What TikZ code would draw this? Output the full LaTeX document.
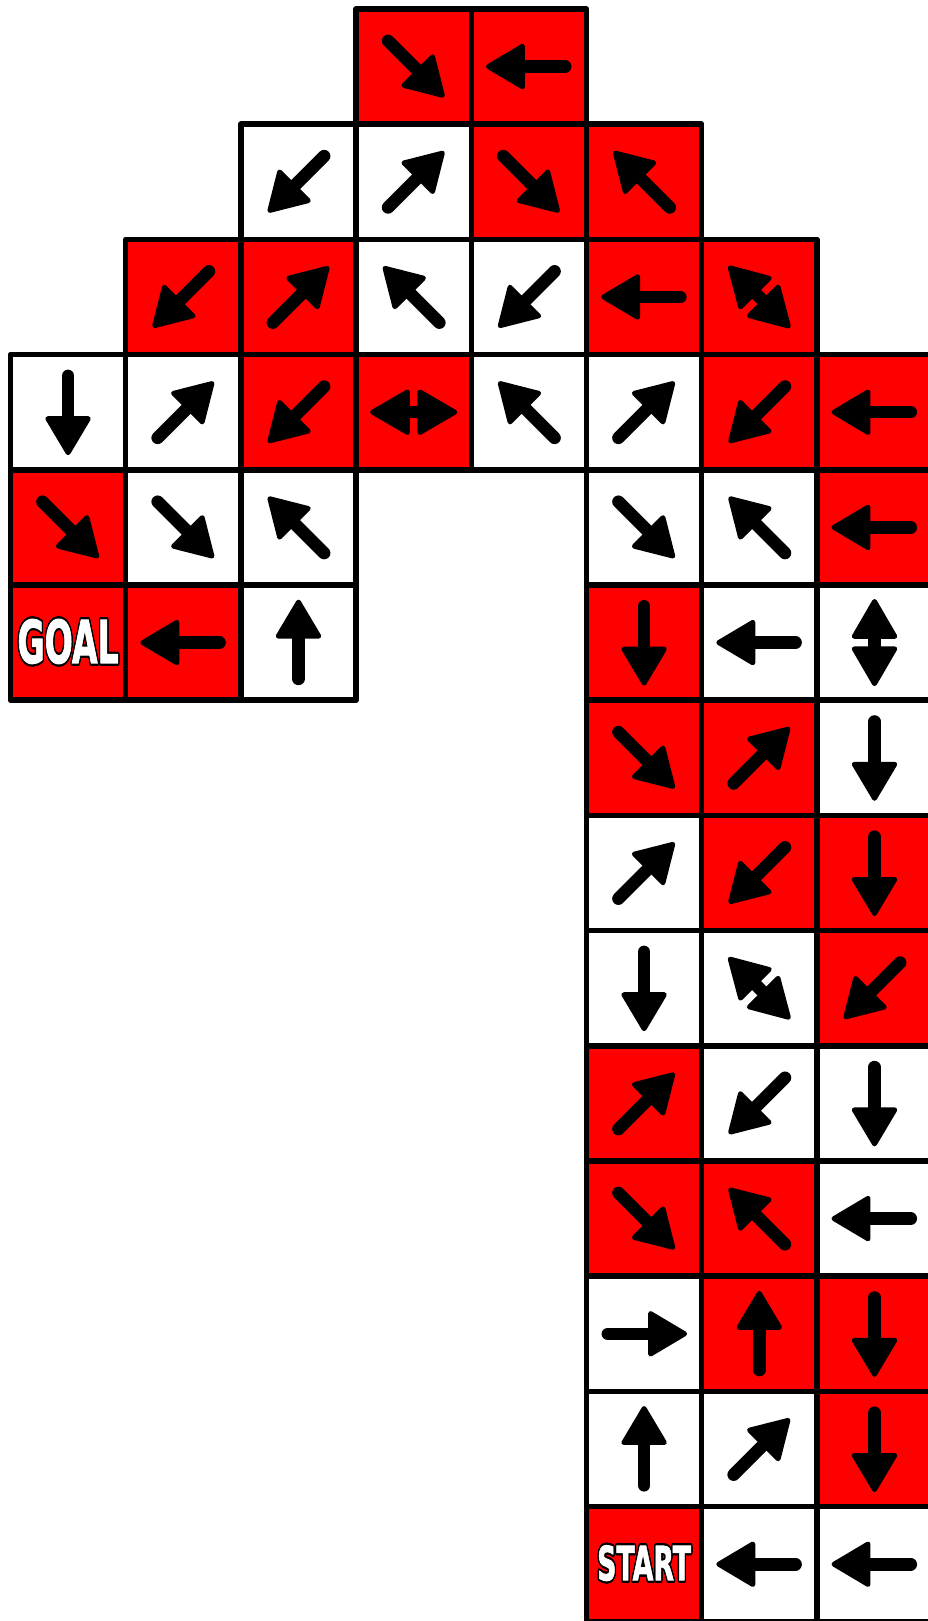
\documentclass[tikz,border=0pt]{standalone}
\usepackage{fontspec}
\newfontfamily\boardfont{DejaVu Sans}[BoldFeatures={FakeBold=2}]
\usepackage{contour}
\contourlength{0.55pt}
\usepackage{tikz}
\tikzset{
    mycell/.style={draw=black,line width=1.35pt,line join=round},
    myshaft/.style={draw=black,line width=3.1pt,line cap=round},
    myhead/.style={fill=black,draw=black,line width=1.2pt,line join=round},
    mylabel/.style={text=white,inner sep=0pt},
    myarrow/.pic={
      \draw[myshaft] (-0.315,0) -- (0.15,0);
      \filldraw[myhead] (0.352,0) -- (0.056,0.176) -- (0.056,-0.176) -- cycle;
    },
    mydouble/.pic={
      \draw[myshaft] (-0.1,0) -- (0.1,0);
      \filldraw[myhead] (0.357,0) -- (0.054,0.176) -- (0.054,-0.176) -- cycle;
      \filldraw[myhead] (-0.357,0) -- (-0.054,0.176) -- (-0.054,-0.176) -- cycle;
    }
}

\begin{document}
\begin{tikzpicture}
  \useasboundingbox (-0.0911,-13.993) rectangle (7.956,0.078);

  \foreach \x/\y/\f/\ang in {
      3/0/red/315, 4/0/red/180,
      2/1/white/225, 3/1/white/45, 4/1/red/315, 5/1/red/135,
      1/2/red/225, 2/2/red/45, 3/2/white/135, 4/2/white/225, 5/2/red/180,
      0/3/white/270, 1/3/white/45, 2/3/red/225, 4/3/white/135,
      5/3/white/45, 6/3/red/225, 7/3/red/180,
      0/4/red/315, 1/4/white/315, 2/4/white/135,
      5/4/white/315, 6/4/white/135, 7/4/red/180,
      1/5/red/180, 2/5/white/90, 5/5/red/270, 6/5/white/180,
      5/6/red/315, 6/6/red/45, 7/6/white/270,
      5/7/white/45, 6/7/red/225, 7/7/red/270,
      5/8/white/270, 7/8/red/225,
      5/9/red/45, 6/9/white/225, 7/9/white/270,
      5/10/red/315, 6/10/red/135, 7/10/white/180,
      5/11/white/0, 6/11/red/90, 7/11/red/270,
      5/12/white/90, 6/12/white/45, 7/12/red/270,
      6/13/white/180, 7/13/white/180}{
    \draw[mycell,fill=\f] (\x,-\y) rectangle ++(1,-1);
    \pic[rotate=\ang] at (\x+0.5,-\y-0.5) {myarrow};
  }

  \foreach \x/\y/\f/\ang in {6/2/red/135, 3/3/red/0, 7/5/white/90, 6/8/white/135}{
    \draw[mycell,fill=\f] (\x,-\y) rectangle ++(1,-1);
    \pic[rotate=\ang] at (\x+0.5,-\y-0.5) {mydouble};
  }

  \draw[mycell,fill=red] (0,-5) rectangle ++(1,-1);
  \node[mylabel,font=\boardfont\bfseries\fontsize{14.6pt}{15pt}\selectfont]
    (goal) at (0.5,-5.5) {\scalebox{0.56}[1]{\contour{black}{GOAL}}};

  \draw[mycell,fill=red] (5,-13) rectangle ++(1,-1);
  \node[mylabel,font=\boardfont\bfseries\fontsize{11.6pt}{12pt}\selectfont]
    (start) at (5.5,-13.5) {\scalebox{0.57}[1]{\contour{black}{START}}};
\end{tikzpicture}
\end{document}
